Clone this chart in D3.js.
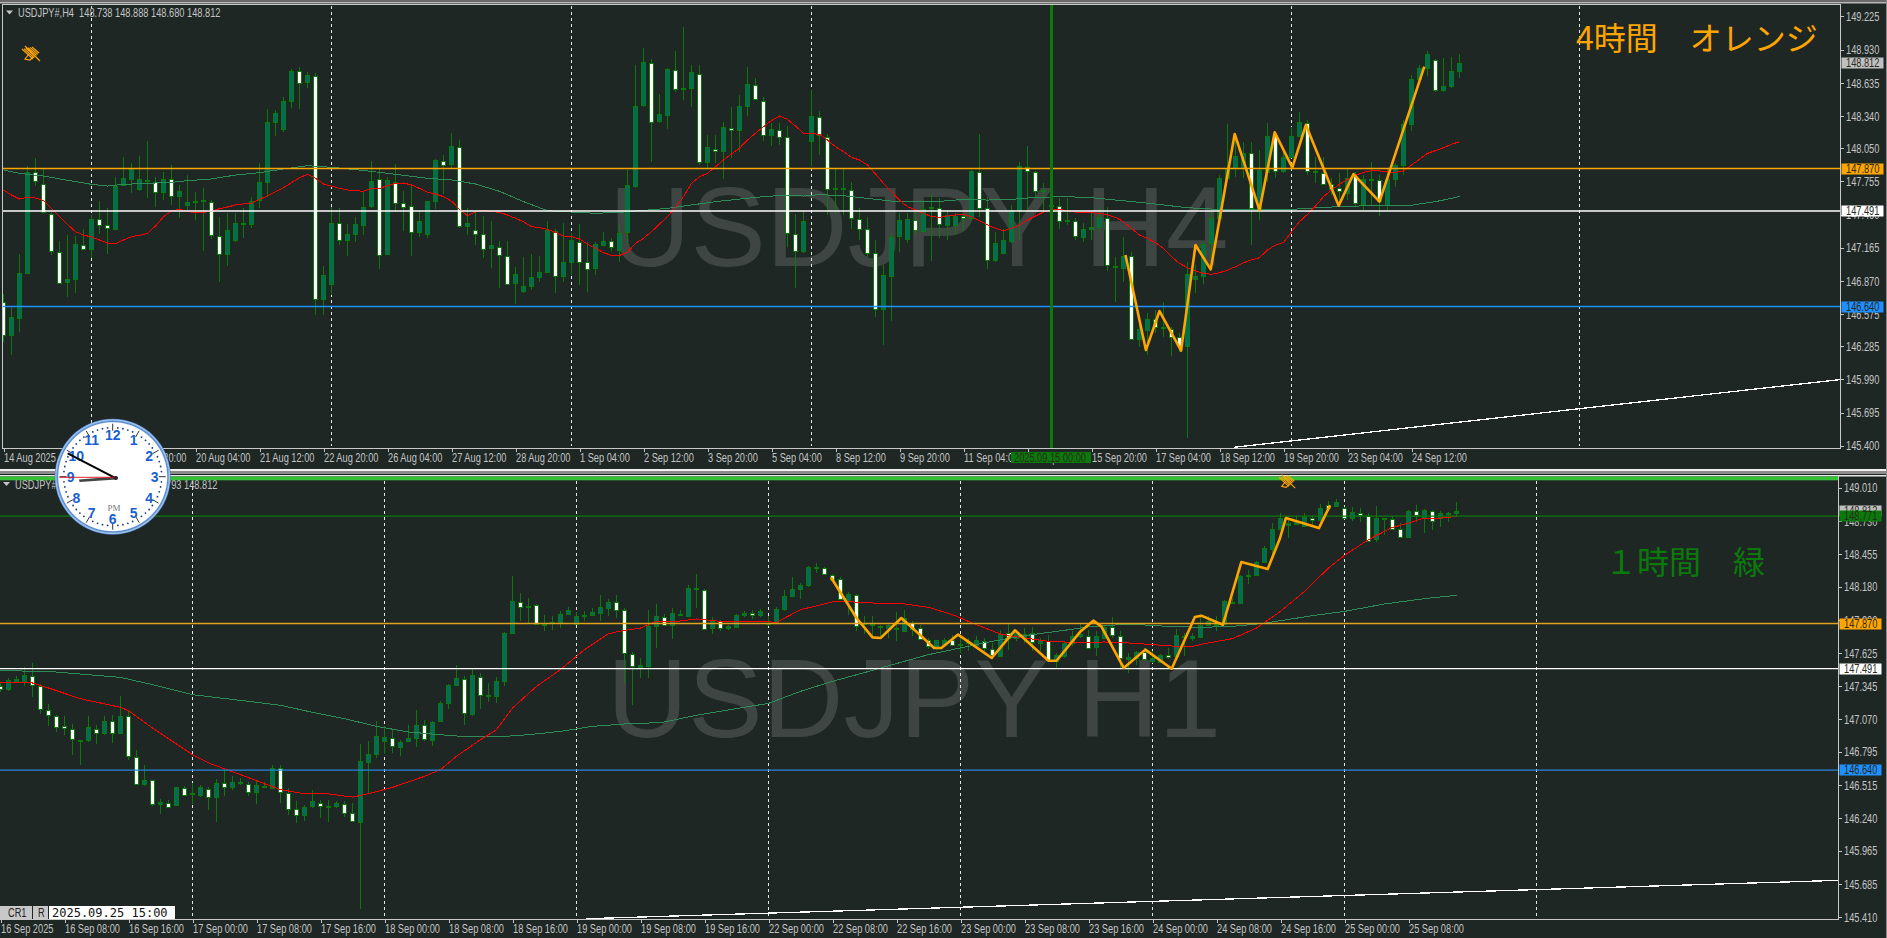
<!DOCTYPE html>
<html><head><meta charset="utf-8">
<style>
html,body{margin:0;padding:0;background:#1e2724;overflow:hidden}
svg{display:block}
text{font-family:"Liberation Sans",Arial,sans-serif}
</style>
<script src="https://cdn.jsdelivr.net/npm/d3@7/dist/d3.min.js"></script>
</head><body><svg id="c" width="1887" height="938"></svg>
<script>
// ---------- DATA: [open, high, low, close] per bar ----------
const h4Bars=[[146.683,146.752,146.327,146.386],[146.386,146.639,146.208,146.550],[146.544,147.108,146.410,146.942],[146.945,147.895,146.942,147.842],[147.842,147.961,147.714,147.765],[147.735,147.866,147.462,147.485],[147.468,147.485,147.099,147.135],[147.129,147.221,146.847,146.856],[146.853,147.275,146.728,146.882],[146.882,147.269,146.763,147.194],
[147.191,147.331,147.150,147.159],[147.147,147.456,147.069,147.417],[147.423,147.580,147.286,147.372],[147.367,147.515,147.108,147.340],[147.334,147.797,147.322,147.717],[147.720,147.976,147.714,147.783],[147.780,147.916,147.655,147.866],[147.681,147.982,147.673,147.774],[147.768,148.115,147.610,147.759],[147.750,147.797,147.524,147.658],
[147.658,147.842,147.589,147.774],[147.777,147.901,147.545,147.622],[147.619,147.723,147.432,147.667],[147.539,147.809,147.500,147.569],[147.569,147.664,147.411,147.580],[147.575,147.693,147.138,147.586],[147.575,147.589,147.239,147.277],[147.271,147.435,146.861,147.114],[147.102,147.471,147.004,147.319],[147.227,147.471,147.218,147.381],
[147.375,147.515,147.248,147.381],[147.381,147.619,147.337,147.583],[147.589,147.922,147.515,147.747],[147.744,148.400,147.619,148.282],[148.279,148.392,148.163,148.362],[148.216,148.504,148.198,148.469],[148.466,148.754,148.406,148.736],[148.742,148.772,148.403,148.632],[148.635,148.733,148.591,148.701],[148.698,148.718,146.564,146.707],
[146.704,147.001,146.564,146.918],[146.838,147.524,146.743,147.381],[147.381,147.515,147.188,147.230],[147.227,147.375,147.093,147.283],[147.283,147.441,147.218,147.372],[147.369,147.673,147.277,147.530],[147.530,147.934,147.515,147.756],[147.780,147.872,146.977,147.105],[147.102,147.797,147.099,147.765],[147.753,147.910,147.485,147.569],
[147.566,147.673,147.316,147.533],[147.539,147.723,147.093,147.304],[147.301,147.500,147.263,147.399],[147.280,147.577,147.248,147.577],[147.575,147.958,147.506,147.943],[147.940,147.990,147.640,147.907],[147.904,148.184,147.872,148.068],[148.062,148.124,147.337,147.355],[147.352,147.515,147.277,147.381],[147.325,147.485,147.188,147.292],
[147.289,147.447,147.075,147.159],[147.156,147.402,146.986,147.185],[147.173,147.227,146.802,147.099],[147.093,147.227,146.838,146.847],[146.844,146.995,146.659,146.927],[146.772,147.084,146.757,146.820],[146.817,147.105,146.787,146.900],[146.900,147.090,146.861,146.945],[146.945,147.402,146.936,147.319],[147.310,147.328,146.757,146.912],
[146.909,147.381,146.861,147.034],[147.034,147.292,146.921,147.230],[147.218,147.375,146.832,147.037],[147.040,147.212,146.772,146.980],[146.980,147.218,146.921,147.194],[147.194,147.307,147.188,147.227],[147.227,147.248,147.138,147.171],[147.150,147.367,147.040,147.298],[147.304,147.857,147.188,147.720],[147.720,148.793,147.693,148.430],
[148.433,148.941,148.421,148.816],[148.813,148.843,147.931,148.291],[148.288,148.534,148.279,148.353],[148.350,148.769,148.222,148.757],[148.751,148.917,148.549,148.585],[148.582,149.128,148.481,148.588],[148.582,148.793,148.421,148.727],[148.715,148.793,147.901,147.934],[147.931,148.169,147.872,148.065],[148.047,148.169,147.916,148.026],
[148.020,148.288,147.777,148.237],[148.234,148.421,147.961,148.213],[148.210,148.525,148.020,148.424],[148.421,148.772,148.341,148.620],[148.617,148.674,148.481,148.490],[148.475,148.510,148.118,148.169],[148.163,148.273,148.074,148.219],[148.216,148.273,148.080,148.157],[148.154,148.249,147.173,147.295],[147.289,147.462,146.808,147.135],
[147.129,147.500,147.114,147.399],[148.109,148.570,147.895,148.335],[148.332,148.383,147.990,148.175],[148.154,148.175,147.456,147.687],[147.681,147.866,147.471,147.693],[147.681,147.866,147.456,147.693],[147.678,147.753,147.334,147.429],[147.423,147.515,147.233,147.337],[147.334,147.441,147.078,147.123],[147.120,147.233,146.550,146.618],
[146.612,147.010,146.297,146.918],[146.915,147.292,146.514,147.263],[147.266,147.471,147.129,147.408],[147.236,147.471,147.209,147.417],[147.411,147.500,147.277,147.322],[147.316,147.575,147.292,147.512],[147.512,147.643,147.049,147.524],[147.518,147.604,147.254,147.372],[147.372,147.500,147.233,147.459],[147.367,147.471,147.277,147.450],
[147.447,147.471,147.316,147.429],[147.426,147.857,147.411,147.845],[147.842,148.175,147.441,147.524],[147.518,147.613,146.977,147.055],[147.049,147.307,147.040,147.203],[147.114,147.328,147.108,147.230],[147.218,147.545,147.209,147.497],[147.494,147.925,147.233,147.889],[147.886,148.071,147.500,147.848],[147.842,147.851,147.619,147.676],
[147.667,147.738,147.471,147.679],[147.536,147.619,147.456,147.542],[147.539,147.604,147.328,147.402],[147.396,147.604,147.367,147.408],[147.405,147.426,147.233,147.269],[147.263,147.381,147.218,147.334],[147.328,147.485,147.233,147.346],[147.346,147.530,147.292,147.435],[147.432,147.530,146.960,147.010],[147.004,147.084,146.683,146.992],
[146.986,147.257,146.861,147.093],[147.093,147.129,146.342,146.350],[146.347,146.564,146.276,146.437],[146.437,146.579,146.208,146.532],[146.529,146.609,146.401,146.454],[146.442,146.683,146.365,146.454],[146.442,146.460,146.199,146.374],[146.365,146.401,146.238,146.282],[146.285,147.040,145.471,146.927],[146.882,147.010,146.763,146.909],
[146.909,147.218,146.838,147.197],[147.203,147.485,146.995,147.426],[147.426,147.812,147.411,147.783],[147.783,148.267,147.783,147.872],[147.872,148.169,147.797,147.982],[147.872,148.109,147.783,148.005],[148.005,148.103,147.188,147.515],[147.500,148.035,147.411,147.857],[147.842,148.279,147.753,148.160],[148.169,148.198,147.783,147.848],
[147.842,148.035,147.827,147.970],[147.970,148.243,147.961,148.160],[148.154,148.371,148.148,148.282],[148.279,148.302,147.812,147.848],[147.836,147.976,147.738,147.848],[147.833,147.976,147.732,147.738],[147.735,147.783,147.634,147.693],[147.693,147.827,147.575,147.670],[147.658,147.863,147.589,147.788],[147.803,147.842,147.530,147.560],
[147.554,147.812,147.500,147.774],[147.762,147.931,147.545,147.774],[147.765,147.812,147.447,147.575],[147.542,147.872,147.500,147.774],[147.774,147.916,147.702,147.901],[147.895,148.302,147.812,148.264],[148.264,148.704,148.204,148.665],[148.665,148.793,148.659,148.763],[148.763,148.917,148.695,148.888],[148.840,148.843,148.555,148.570],
[148.564,148.858,148.555,148.602],[148.600,148.867,148.591,148.736],[148.738,148.888,148.680,148.812]];

const h1Bars=[[147.343,147.371,147.295,147.318],[147.315,147.413,147.301,147.393],[147.390,147.427,147.385,147.407],[147.385,147.502,147.343,147.435],[147.432,147.539,147.253,147.357],[147.349,147.363,147.111,147.153],[147.147,147.195,147.007,147.102],[147.097,147.105,146.960,147.007],[147.013,147.091,146.937,146.993],[146.988,147.027,146.770,146.901],
[146.881,146.895,146.686,146.893],[146.887,147.091,146.876,146.999],[146.988,147.016,146.862,146.957],[146.951,147.091,146.937,147.049],[147.049,147.105,146.867,146.951],[146.951,147.259,146.946,147.091],[147.091,147.133,146.728,146.756],[146.753,146.806,146.518,146.523],[146.521,146.680,146.504,146.554],[146.554,146.560,146.342,146.350],
[146.350,146.398,146.274,146.370],[146.367,146.392,146.322,146.336],[146.344,146.498,146.336,146.496],[146.493,146.504,146.428,146.437],[146.437,146.532,146.358,146.448],[146.426,146.518,146.414,146.496],[146.484,146.496,146.308,146.414],[146.409,146.565,146.205,146.529],[146.532,146.658,146.420,146.498],[146.493,146.588,146.476,146.537],
[146.529,146.574,146.518,146.540],[146.526,146.537,146.420,146.456],[146.451,146.560,146.358,146.512],[146.509,146.537,146.490,146.498],[146.496,146.686,146.490,146.661],[146.658,146.686,146.364,146.456],[146.451,146.490,146.266,146.319],[146.316,146.384,146.196,146.269],[146.269,146.350,146.210,146.333],[146.333,146.476,146.322,146.378],
[146.364,146.392,146.238,146.336],[146.333,146.386,146.205,146.339],[146.333,146.384,146.322,146.361],[146.358,146.378,146.247,146.286],[146.280,146.364,146.205,146.210],[146.202,146.859,145.477,146.714],[146.702,146.881,146.440,146.772],[146.778,147.049,146.742,146.929],[146.879,147.007,146.775,146.915],[146.909,146.988,146.784,146.842],
[146.839,146.895,146.761,146.879],[146.881,147.021,146.873,146.907],[146.904,147.142,146.831,147.016],[147.021,147.063,146.887,146.907],[146.895,147.049,146.839,147.046],[147.046,147.223,147.041,147.200],[147.203,147.363,147.156,147.351],[147.351,147.525,147.343,147.410],[147.407,147.427,147.021,147.119],[147.111,147.488,147.091,147.435],
[147.424,147.455,147.153,147.270],[147.256,147.371,147.209,147.267],[147.256,147.421,147.203,147.385],[147.385,147.796,147.349,147.788],[147.785,148.269,147.782,148.056],[148.053,148.123,147.888,148.009],[148.006,148.084,147.874,148.014],[148.023,148.034,147.860,147.866],[147.860,147.944,147.804,147.869],[147.872,147.930,147.818,147.883],
[147.877,147.972,147.832,147.947],[147.944,148.006,147.939,147.981],[147.860,147.967,147.855,147.930],[147.936,147.978,147.894,147.944],[147.936,148.000,147.930,147.964],[147.953,148.109,147.888,148.006],[148.003,148.079,147.930,148.053],[148.053,148.109,147.916,147.989],[147.983,148.000,147.371,147.620],[147.617,147.631,147.189,147.519],
[147.502,147.581,147.413,147.519],[147.508,147.986,147.413,147.846],[147.844,148.034,147.665,147.930],[147.928,147.953,147.846,147.858],[147.852,148.000,147.740,147.955],[147.953,147.986,147.930,147.942],[147.928,148.196,147.925,148.165],[148.157,148.286,148.000,148.168],[148.154,148.160,147.824,147.830],[147.827,147.925,147.785,147.888],
[147.888,147.902,147.804,147.830],[147.827,147.860,147.818,147.846],[147.841,147.950,147.838,147.939],[147.936,147.972,147.925,147.955],[147.961,147.986,147.911,147.944],[147.936,147.995,147.925,147.972],[147.874,147.930,147.846,147.863],[147.880,148.006,147.874,147.989],[147.986,148.154,147.972,148.098],[148.095,148.260,148.090,148.157],
[148.154,148.210,148.079,148.190],[148.188,148.350,148.174,148.342],[148.333,148.378,148.294,148.342],[148.333,148.347,148.274,148.283],[148.280,148.288,148.238,148.238],[148.246,148.258,148.067,148.076],[148.070,148.135,147.944,148.118],[148.112,148.118,147.810,147.855],[147.860,147.930,147.782,147.872],[147.869,147.930,147.762,147.858],
[147.849,147.860,147.748,147.841],[147.832,147.874,147.748,147.855],[147.835,147.964,147.726,147.824],[147.810,147.986,147.804,147.916],[147.874,147.888,147.762,147.824],[147.830,147.860,147.735,147.740],[147.735,147.748,147.659,147.684],[147.670,147.735,147.651,147.732],[147.684,147.748,147.673,147.729],[147.735,147.777,147.679,147.695],
[147.693,147.777,147.623,147.701],[147.712,147.748,147.637,147.701],[147.693,147.768,147.684,147.732],[147.726,147.748,147.637,147.665],[147.659,147.707,147.575,147.609],[147.603,147.813,147.595,147.785],[147.791,147.866,147.651,147.757],[147.751,147.818,147.721,147.799],[147.757,147.832,147.707,147.785],[147.791,147.838,147.637,147.712],
[147.709,147.748,147.637,147.732],[147.721,147.777,147.553,147.558],[147.558,147.623,147.497,147.609],[147.603,147.721,147.581,147.709],[147.701,147.804,147.679,147.763],[147.760,147.874,147.748,147.779],[147.768,147.818,147.665,147.670],[147.670,147.804,147.595,147.763],[147.748,147.860,147.743,147.838],[147.838,147.925,147.748,147.771],
[147.768,147.804,147.497,147.581],[147.572,147.623,147.455,147.586],[147.581,147.637,147.525,147.628],[147.628,147.665,147.553,147.572],[147.558,147.637,147.539,147.581],[147.553,147.617,147.539,147.609],[147.609,147.665,147.575,147.595],[147.592,147.827,147.581,147.771],[147.765,147.791,147.595,147.754],[147.748,147.791,147.721,147.765],
[147.760,147.930,147.748,147.860],[147.860,147.930,147.855,147.894],[147.860,147.930,147.810,147.869],[147.860,148.070,147.855,148.056],[148.053,148.084,148.034,148.042],[148.037,148.280,148.034,148.266],[148.266,148.322,148.204,148.274],[148.280,148.397,148.272,148.389],[148.389,148.518,148.378,148.504],[148.501,148.713,148.420,148.666],
[148.666,148.797,148.658,148.755],[148.700,148.755,148.588,148.714],[148.700,148.769,148.694,148.719],[148.686,148.797,148.677,148.761],[148.755,148.783,148.686,148.739],[148.733,148.873,148.727,148.837],[148.862,148.895,148.825,148.834],[148.856,148.915,148.851,148.887],[148.842,148.848,148.755,148.761],[148.750,148.845,148.727,148.803],
[148.800,148.839,148.722,148.781],[148.775,148.797,148.554,148.565],[148.574,148.859,148.554,148.753],[148.742,148.755,148.616,148.753],[148.750,148.769,148.663,148.669],[148.666,148.713,148.593,148.599],[148.596,148.820,148.588,148.811],[148.811,148.862,148.722,148.778],[148.755,148.834,148.630,148.823],[148.817,148.825,148.652,148.736],
[148.750,148.811,148.677,148.795],[148.789,148.806,148.722,148.795],[148.792,148.890,148.764,148.812]];

const h4Red=[147.679,147.634,147.598,147.613,147.607,147.586,147.515,147.441,147.372,147.307,147.277,147.260,147.233,147.206,147.200,147.233,147.263,147.275,147.292,147.358,147.441,147.491,147.506,147.485,147.479,147.479,147.491,147.512,147.527,147.545,147.554,147.560,147.595,147.628,147.664,147.699,147.744,147.788,147.818,147.783,147.732,147.714,147.693,147.679,147.673,147.667,147.693,147.693,147.717,147.738,147.741,147.723,147.693,147.658,147.643,147.619,147.580,147.506,147.450,147.485,147.494,147.488,147.479,147.456,147.426,147.396,147.352,147.343,147.328,147.301,147.269,147.263,147.242,147.197,147.159,147.120,147.096,147.096,147.123,147.203,
147.248,147.307,147.375,147.441,147.524,147.619,147.738,147.797,147.827,147.886,147.946,148.000,148.050,148.124,148.184,148.243,148.297,148.338,148.308,148.249,148.184,148.181,148.175,148.124,148.065,148.020,147.970,147.946,147.901,147.821,147.738,147.664,147.589,147.530,147.500,147.471,147.441,147.435,147.447,147.456,147.459,147.441,147.405,147.367,147.337,147.316,147.337,147.367,147.411,147.447,147.482,147.500,147.506,147.494,147.482,147.479,147.476,147.471,147.456,147.435,147.396,147.337,147.277,147.248,147.209,147.159,147.084,147.025,146.986,146.957,146.936,146.927,146.942,146.965,146.995,147.031,147.055,147.075,147.144,147.188,
147.209,147.307,147.396,147.462,147.536,147.619,147.679,147.729,147.774,147.809,147.836,147.851,147.848,147.839,147.836,147.848,147.901,147.952,148.005,148.029,148.056,148.086,148.109];

const h4GreenBars=[0,2,5,9,11,13,15,18,21,23,26,29,32,35,38,41,44,47,50,53,56,59,62,65,68,71,74,77,79,83,86,89,92,95,98,100,102,105,108,111,114,117,120,123,126,129,133,136,139,142,145,148,151,154,157,161,165,168,171,174,176,177,179,181,182];
const h4GreenVals=[147.857,147.827,147.803,147.753,147.729,147.714,147.729,147.738,147.747,147.762,147.777,147.812,147.833,147.866,147.895,147.881,147.860,147.836,147.809,147.783,147.768,147.732,147.667,147.575,147.494,147.482,147.471,147.479,147.491,147.515,147.545,147.575,147.598,147.619,147.634,147.625,147.637,147.628,147.604,147.580,147.577,147.577,147.595,147.589,147.595,147.613,147.619,147.610,147.589,147.569,147.545,147.521,147.509,147.509,147.500,147.506,147.524,147.533,147.539,147.542,147.542,147.554,147.575,147.604,147.622];

const h4ZigBars=[140.25,142.8,144.5,147.2,149,150.9,153.9,157,158.9,161.1,162.8,166.9,168.75,172,177.6];
const h4ZigVals=[147.099,146.252,146.600,146.247,147.188,146.971,148.178,147.500,148.193,147.878,148.258,147.539,147.821,147.575,148.778];

const h1RedBars=[0,4,6,10,15,16,19,24,26,30,35,38,41,44,46,49,53,55,57,60,62,64,67,70,73,76,78,80,82,84,87,90,95,97,100,104,106,110,113,116,119,122,125,128,131,134,138,141,144,147,149,151,154,157,160,163,166,168,171,174,176,178,180,182];
const h1RedVals=[147.379,147.371,147.329,147.239,147.167,147.139,146.993,146.770,146.700,146.602,146.476,146.442,146.440,146.414,146.442,146.495,146.588,146.644,146.756,146.895,146.979,147.161,147.343,147.483,147.651,147.785,147.813,147.832,147.888,147.883,147.908,147.888,147.888,147.880,147.986,148.051,148.053,148.039,148.034,148.006,147.944,147.860,147.782,147.748,147.721,147.712,147.715,147.707,147.693,147.679,147.679,147.707,147.743,147.832,147.972,148.140,148.336,148.442,148.574,148.677,148.713,148.755,148.755,148.769];

const h1GreenBars=[0,7,12,15,19,24,30,35,39,43,47,51,55,58,62,66,70,74,78,80,83,87,93,96,100,104,109,113,116,120,124,128,132,136,141,146,150,154,158,160,164,168,173,178,182];
const h1GreenVals=[147.477,147.463,147.435,147.418,147.357,147.273,147.225,147.184,147.125,147.072,147.007,146.960,146.937,146.921,146.918,146.937,146.965,147.007,147.027,147.030,147.044,147.100,147.167,147.200,147.301,147.385,147.477,147.553,147.609,147.665,147.721,147.768,147.804,147.841,147.866,147.846,147.838,147.846,147.872,147.894,147.936,147.972,148.034,148.079,148.107];

const h1ZigBars=[103.8,107,109,110,112.6,114.9,116.7,117.6,119.7,121.5,123.9,126.8,131,132,135,136.6,137.6,140.4,143.1,146.4,149.3,150.1,152.8,155.1,158.4,159.9,160.67,164.8,166.2];
const h1ZigVals=[148.258,147.916,147.754,147.748,147.916,147.777,147.665,147.665,147.777,147.693,147.581,147.813,147.558,147.558,147.804,147.894,147.846,147.497,147.651,147.491,147.925,147.936,147.860,148.386,148.327,148.579,148.755,148.671,148.862];

const h4PriceTicks=[149.225,148.930,148.635,148.340,148.050,147.755,147.460,147.165,146.870,146.575,146.285,145.990,145.695,145.400];
const h1PriceTicks=[149.010,148.730,148.455,148.180,147.900,147.625,147.345,147.070,146.795,146.515,146.240,145.965,145.685,145.410];
const h4TimeLabels=["14 Aug 2025","15 Aug 08:00","18 Aug 20:00","20 Aug 04:00","21 Aug 12:00","22 Aug 20:00","26 Aug 04:00","27 Aug 12:00","28 Aug 20:00","1 Sep 04:00","2 Sep 12:00","3 Sep 20:00","5 Sep 04:00","8 Sep 12:00","9 Sep 20:00","11 Sep 04:00","12 Sep 12:00","15 Sep 20:00","17 Sep 04:00","18 Sep 12:00","19 Sep 20:00","23 Sep 04:00","24 Sep 12:00"];
const h1TimeLabels=["16 Sep 2025","16 Sep 08:00","16 Sep 16:00","17 Sep 00:00","17 Sep 08:00","17 Sep 16:00","18 Sep 00:00","18 Sep 08:00","18 Sep 16:00","19 Sep 00:00","19 Sep 08:00","19 Sep 16:00","22 Sep 00:00","22 Sep 08:00","22 Sep 16:00","23 Sep 00:00","23 Sep 08:00","23 Sep 16:00","24 Sep 00:00","24 Sep 08:00","24 Sep 16:00","25 Sep 00:00","25 Sep 08:00"];
const h4Separators=[11,41,71,101,161,197];
const h1Separators=[24,48,72,96,120,144,168,192];
const h4Levels=[{p:147.870,c:"#ffa500"},{p:147.491,c:"#ffffff"},{p:146.640,c:"#1e90ff"}];
const h1Levels=[{p:148.771,c:"#0a7a0a"},{p:147.870,c:"#e0a020"},{p:147.491,c:"#ffffff"},{p:146.640,c:"#2a86dc"}];
const h4Tags=[{p:148.812,c:"#c0c0c0",t:"148.812"},{p:147.870,c:"#ffa500",t:"147.870"},{p:147.491,c:"#ffffff",t:"147.491"},{p:146.640,c:"#1e90ff",t:"146.640"}];
const h1Tags=[{p:148.812,c:"#c0c0c0",t:"148.812"},{p:148.771,c:"#0a7a0a",t:"148.771"},{p:147.870,c:"#ffa500",t:"147.870"},{p:147.491,c:"#ffffff",t:"147.491"},{p:146.640,c:"#1e90ff",t:"146.640"}];
const h4TrendBars=[153.8,229.7], h4TrendVals=[145.385,145.990];
const h1TrendBars=[73.15,229.8], h1TrendVals=[145.393,145.715];
const clockHours=[12,1,2,3,4,5,6,7,8,9,10,11];

// ---------- DRAWING ----------
const svg=d3.select("#c");
const BG="#1e2724",WICK="#0a7a0a",BULL="#006b5e",BEAR="#ffffff",AXC="#c4c4c4";
const defs=svg.append("defs");
svg.append("rect").attr("width",1887).attr("height",938).attr("fill",BG);

const chrome=[[0,0,1887,2,"#6a6a6a"],[0,2,1887,1.5,"#b8b8b8"],[0,469,1887,2,"#f0f0f0"],[0,471,1887,3,"#8c8c8c"],[0,474,1887,1,"#1e2724"],[0,475,1887,1.5,"#e8e8e8"]];
svg.selectAll("rect.ch").data(chrome).join("rect").attr("class","ch").attr("x",d=>d[0]).attr("y",d=>d[1]).attr("width",d=>d[2]).attr("height",d=>d[3]).attr("fill",d=>d[4]);
svg.append("rect").attr("x",1886).attr("y",0).attr("width",1).attr("height",938).attr("fill","#8a8a8a");

function pane(o){
  const x=d3.scaleLinear().domain([0,1]).range([o.x0,o.x0+8]);
  const y=d3.scaleLinear().domain(o.pDomain).range(o.yRange);
  const id="clip"+o.name;
  defs.append("clipPath").attr("id",id).append("rect").attr("x",o.L).attr("y",o.T).attr("width",o.R-o.L).attr("height",o.B-o.T);
  const g=svg.append("g");
  const c=g.append("g").attr("clip-path",`url(#${id})`);
  c.append("text").attr("x",o.wmX).attr("y",o.wmY).text(o.wm).attr("fill","#3e4543").style("font-size",o.wmS+"px");
  c.selectAll("line.sep").data(o.seps).join("line").attr("class","sep")
    .attr("x1",d=>x(d)+.5).attr("x2",d=>x(d)+.5).attr("y1",o.T+1).attr("y2",o.B-2)
    .attr("stroke","#e6e6e6").attr("stroke-width",1).attr("stroke-dasharray","3,3").attr("shape-rendering","crispEdges");
  const cg=c.append("g").attr("shape-rendering","crispEdges");
  cg.selectAll("rect.w").data(o.bars).join("rect").attr("class","w")
    .attr("x",(d,i)=>x(i)).attr("width",1).attr("y",d=>y(d[1])).attr("height",d=>Math.max(1,y(d[2])-y(d[1]))).attr("fill",WICK);
  cg.selectAll("rect.b").data(o.bars).join("rect").attr("class","b")
    .attr("x",(d,i)=>x(i)-1.5).attr("width",4)
    .attr("y",d=>Math.round(y(Math.max(d[0],d[3])))+.5)
    .attr("height",d=>Math.max(1,Math.round(Math.abs(y(d[0])-y(d[3])))))
    .attr("fill",d=>d[3]>=d[0]?BULL:BEAR).attr("stroke",WICK).attr("stroke-width",1);
  const ln=d3.line().x(d=>x(d[0])+.5).y(d=>y(d[1]));
  c.append("path").datum(o.greenB.map((b,i)=>[b,o.greenV[i]])).attr("d",ln).attr("fill","none").attr("stroke","#2e8b57").attr("stroke-width",1).attr("shape-rendering","crispEdges");
  c.append("path").datum(o.redB.map((b,i)=>[b,o.redV[i]])).attr("d",ln).attr("fill","none").attr("stroke","#ff0000").attr("stroke-width",1).attr("shape-rendering","crispEdges");
  c.selectAll("line.lv").data(o.levels).join("line").attr("class","lv")
    .attr("x1",o.L).attr("x2",o.R).attr("y1",d=>y(d.p)).attr("y2",d=>y(d.p))
    .attr("stroke",d=>d.c).attr("stroke-width",o.lvW);
  c.append("path").datum(o.trB.map((b,i)=>[b,o.trV[i]])).attr("d",ln).attr("fill","none").attr("stroke","#ffffff").attr("stroke-width",1.3).attr("shape-rendering","crispEdges");
  if(o.vBar!=null) c.append("rect").attr("x",x(o.vBar)-1).attr("width",3).attr("y",o.T).attr("height",o.B-o.T).attr("fill","#0a7a0a");
  c.append("path").datum(o.zigB.map((b,i)=>[b,o.zigV[i]])).attr("d",ln).attr("fill","none").attr("stroke","#ffa500").attr("stroke-width",2.6).attr("stroke-linejoin","round");
  g.append("path").attr("d",o.frame).attr("fill","none").attr("stroke","#c8c8c8").attr("stroke-width",1).attr("shape-rendering","crispEdges");
  const ax=g.append("g").attr("transform",`translate(${o.R+.5},0)`).call(d3.axisRight(y).tickValues(o.pTicks).tickSize(3).tickFormat(d3.format(".3f")));
  ax.select(".domain").remove();
  ax.selectAll("line").attr("stroke",AXC).attr("shape-rendering","crispEdges");
  ax.selectAll("text").attr("x",5.5).attr("dy","0.36em").attr("fill",AXC).attr("class","sq");
  const tx=g.append("g").attr("transform",`translate(0,${o.B+.5})`).call(d3.axisBottom(x).tickValues(o.tLabels.map((_,k)=>k*8)).tickSize(3).tickFormat((d,k)=>o.tLabels[k]));
  tx.select(".domain").remove();
  tx.selectAll("line").attr("stroke",AXC).attr("shape-rendering","crispEdges").attr("x1",0.5).attr("x2",0.5);
  tx.selectAll("text").attr("text-anchor","start").attr("x",0.5).attr("y",5).attr("dy","0.71em").attr("fill",AXC).attr("class","sq");
  const tg=g.selectAll("g.tag").data(o.tags).join("g").attr("class","tag").attr("transform",d=>`translate(${o.R+1.5},${Math.round(y(d.p))})`);
  tg.append("rect").attr("x",0).attr("y",-5.5).attr("width",42).attr("height",11).attr("fill",d=>d.c);
  tg.append("text").attr("x",4.5).attr("y",0).attr("dy","0.36em").attr("fill","#2a2a1e").attr("class","sq").text(d=>d.t);
  g.append("path").attr("d",`M${o.hx} ${o.hy-2.5}h7l-3.5 4z`).attr("fill","#c4c4c4");
  g.append("text").attr("x",o.hx+12).attr("y",o.hy).attr("dy","0.36em").attr("fill",AXC).attr("class","sq").style("white-space","pre").text(o.header);
  return {x,y,g};
}

pane({name:"h4",x0:3,pDomain:[149.372,145.397],yRange:[0,446],L:3,R:1840,T:5,B:448,
  bars:h4Bars,redB:h4Red.map((_,i)=>i),redV:h4Red,greenB:h4GreenBars,greenV:h4GreenVals,zigB:h4ZigBars,zigV:h4ZigVals,
  seps:h4Separators,levels:h4Levels,lvW:1.6,trB:h4TrendBars,trV:h4TrendVals,vBar:131,
  frame:"M2.5 448.5V4.5H1840.5V448.5H2.5",pTicks:h4PriceTicks,tLabels:h4TimeLabels,tags:h4Tags,
  wm:"USDJPY H4",wmX:609,wmY:266,wmS:113,hx:6,hy:13,header:"USDJPY#,H4  148.738 148.888 148.680 148.812"});
pane({name:"h1",x0:0,pDomain:[149.175,145.427],yRange:[468,914.67],L:0,R:1838,T:480,B:919,
  bars:h1Bars,redB:h1RedBars,redV:h1RedVals,greenB:h1GreenBars,greenV:h1GreenVals,zigB:h1ZigBars,zigV:h1ZigVals,
  seps:h1Separators,levels:h1Levels,lvW:1.3,trB:h1TrendBars,trV:h1TrendVals,vBar:null,
  frame:"M0 919.5H1838.5V476",pTicks:h1PriceTicks,tLabels:h1TimeLabels,tags:h1Tags,
  wm:"USDJPY H1",wmX:607,wmY:737,wmS:112,hx:3,hy:484.5,header:"USDJPY#,H1  148.798 148.890 148.793 148.812"});

svg.append("rect").attr("x",0).attr("y",476.5).attr("width",1838).attr("height",3.8).attr("fill","#35c035");

svg.append("rect").attr("x",1011).attr("y",452).attr("width",80).attr("height",11).attr("fill","#0a7a0a");
svg.append("text").attr("x",1014).attr("y",457.5).attr("dy","0.36em").attr("fill","#2a2a1e").attr("class","sq").text("2025.09.15 00:00");

const cjk="'Noto Sans CJK JP',sans-serif";
svg.append("text").attr("x",1576).attr("y",50).text("4時間　オレンジ").attr("fill","#ffa500").style("font-family",cjk).style("font-size","32px");
svg.append("text").attr("x",1605).attr("y",574).text("１時間　緑").attr("fill","#0a7a0a").style("font-family",cjk).style("font-size","32px");

function icon(cx,cy,s){
  const g=svg.append("g").attr("transform",`translate(${cx},${cy}) scale(${s})`).attr("stroke","#ffa500").attr("fill","none").attr("stroke-width",1.2);
  [-5,-3,-1,1,3,5].forEach(k=>g.append("line").attr("x1",-5+k).attr("y1",-5-k*.2).attr("x2",4+k*.6).attr("y2",3-k*.6));
  g.append("path").attr("d","M-7 -7L8 8M-3 1L-7 6L-2 7L1 4");
}
icon(32,53,1);icon(1288,481,.9);

const btns=[[0,906,32,13,"#c8c8c8","CR1",8],[33,906,15,13,"#c8c8c8","R",38]];
btns.forEach(b=>{svg.append("rect").attr("x",b[0]).attr("y",b[1]).attr("width",b[2]).attr("height",b[3]).attr("fill",b[4]);
  svg.append("text").attr("x",b[6]).attr("y",912.5).attr("dy","0.36em").attr("fill","#222").attr("class","sq").text(b[5]);});
svg.append("rect").attr("x",49).attr("y",906).attr("width",126).attr("height",13).attr("fill","#fff");
svg.append("text").attr("x",52).attr("y",912.5).attr("dy","0.36em").attr("fill","#111").style("font-family","'DejaVu Sans Mono',monospace").style("font-size","12px").text("2025.09.25 15:00");

// compress small labels to the reference's narrow chart font
svg.selectAll("text.sq").style("font-size","12px").each(function(){
  const w=this.getComputedTextLength();
  d3.select(this).attr("textLength",w*.77).attr("lengthAdjust","spacingAndGlyphs");
});

// clock
const cx=112.7,cy=476.7,k=svg.append("g");
const gr=defs.append("radialGradient").attr("id","ring");
gr.append("stop").attr("offset","0.93").attr("stop-color","#ffffff");
gr.append("stop").attr("offset","0.95").attr("stop-color","#4f86cf");
gr.append("stop").attr("offset","0.98").attr("stop-color","#a9c8ee");
gr.append("stop").attr("offset","1").attr("stop-color","#3f74bc");
k.append("circle").attr("cx",cx).attr("cy",cy).attr("r",58).attr("fill","url(#ring)");
d3.range(60).forEach(m=>{const a=m*Math.PI/30;
  if(m%5){k.append("circle").attr("cx",cx+49*Math.sin(a)).attr("cy",cy-49*Math.cos(a)).attr("r",.9).attr("fill","#1b3a78");}
  else k.append("line").attr("x1",cx+46*Math.sin(a)).attr("y1",cy-46*Math.cos(a)).attr("x2",cx+53*Math.sin(a)).attr("y2",cy-53*Math.cos(a)).attr("stroke","#333").attr("stroke-width",1);
});
k.selectAll("text.n").data(clockHours).join("text").attr("class","n")
  .attr("x",(d,i)=>cx+42*Math.sin(i*Math.PI/6)).attr("y",(d,i)=>cy-42*Math.cos(i*Math.PI/6)).attr("dy","0.36em").attr("text-anchor","middle")
  .attr("fill","#1a5fd0").style("font-weight","bold").style("font-size","14px").text(d=>d);
k.append("text").attr("x",114).attr("y",511).attr("text-anchor","middle").attr("fill","#777").style("font-family","'Liberation Serif',serif").style("font-size","9px").text("PM");
k.append("path").attr("d","M116 476.5L79 479.5L79.5 482L116 479.5z").attr("fill","#444");
k.append("line").attr("x1",116).attr("y1",478.3).attr("x2",67.7).attr("y2",453.3).attr("stroke","#000").attr("stroke-width",2);
k.append("line").attr("x1",116).attr("y1",477.3).attr("x2",59.3).attr("y2",477.3).attr("stroke","#e0202a").attr("stroke-width",1);
k.append("circle").attr("cx",116).attr("cy",478).attr("r",2).attr("fill","#222");
</script></body></html>
